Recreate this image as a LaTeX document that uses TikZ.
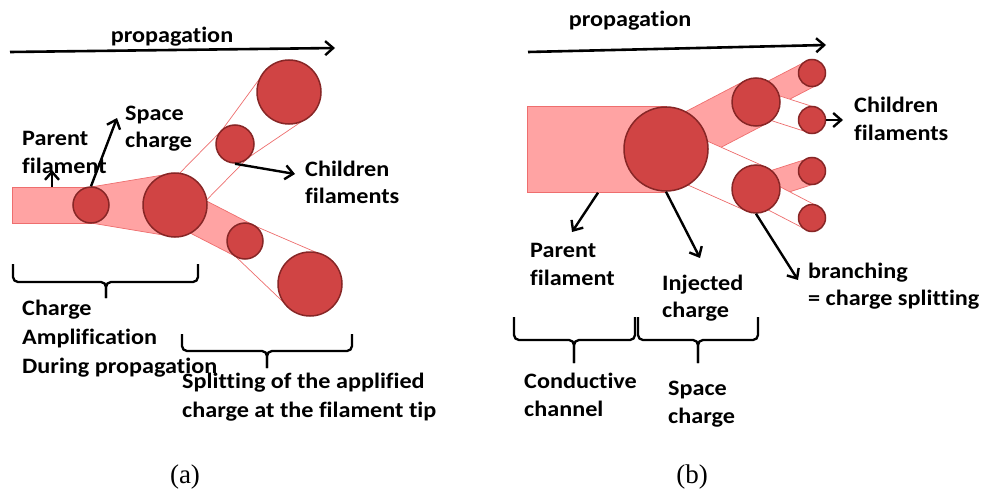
\documentclass[tikz,border=0pt]{standalone}
\usepackage{fontspec}
\setmainfont{Carlito}[FakeStretch=1.1, Ligatures=NoCommon]
\newfontfamily\capfont{Liberation Serif}
\usetikzlibrary{calc,arrows.meta}
\definecolor{blob}{RGB}{208,68,68}
\definecolor{blobedge}{RGB}{135,38,38}
\definecolor{pinkfill}{RGB}{255,163,163}
\definecolor{pinkedge}{RGB}{238,110,110}
\tikzset{
 blobc/.style={circle, fill=blob, draw=blobedge, line width=1.5pt, inner sep=0pt, minimum size=#1},
 lbl/.style={font=\bfseries\fontsize{22}{28}\selectfont, align=left, anchor=base west, inner sep=0pt},
 arr/.style={-{Straight Barb[length=8pt,width=14pt,line width=2.4pt]}, line width=2.4pt},
 proparr/.style={-{Straight Barb[length=8pt,width=14pt,line width=2.4pt]}, line width=2.6pt},
 bracefig/.style={line width=2.3pt, rounded corners=5pt},
 pinktube/.style={fill=pinkfill, draw=pinkedge, line width=0.7pt},
 whitetube/.style={fill=white, draw=pinkedge, line width=0.7pt},
 capl/.style={font=\capfont\fontsize{27}{30}\selectfont, inner sep=0pt, anchor=base},
}
\newcommand\tubepath[5]{%
 \path[#5] ($(#1)!#2!90:(#3)$) -- ($(#3)!#4!-90:(#1)$) -- ($(#3)!#4!90:(#1)$) -- ($(#1)!#2!-90:(#3)$) -- cycle;}
\begin{document}
\begin{tikzpicture}[x=1pt,y=-1pt]
\useasboundingbox (0,0) rectangle (981,495);
% ---------------- panel (a) ----------------
\coordinate (pa1) at (91,205);
\coordinate (pa2) at (175,205);
\coordinate (pa3) at (235,144);
\coordinate (pa4) at (289,92);
\coordinate (pa5) at (245,241);
\coordinate (pa6) at (310,284);
\node[rectangle, anchor=north west, fill=pinkfill, draw=pinkedge, line width=0.7pt, minimum width=79pt, minimum height=36pt, inner sep=0pt] (pfL) at (12,187) {};
\tubepath{pa1}{18pt}{pa2}{32pt}{pinktube}
\tubepath{pa2}{18pt}{pa5}{18pt}{pinktube}
\tubepath{pa5}{18pt}{pa6}{32pt}{whitetube}
\tubepath{pa3}{19pt}{pa4}{32pt}{whitetube}
\begin{scope}
 \clip ($(pa2)!19pt!90:(pa3)$) -- ($(pa3)!19pt!-90:(pa2)$) -- ($(pa3)!19pt!90:(pa2)$) -- ($(pa2)!19pt!-90:(pa3)$) -- cycle;
 \shade[left color=white, middle color=pinkfill!80, right color=white, shading angle=45] (180,139) rectangle (240,199);
\end{scope}
\tubepath{pa2}{19pt}{pa3}{19pt}{draw=pinkedge, line width=0.7pt}
\node[blobc=36pt] (c1) at (pa1) {};
\node[blobc=64pt] (c2) at (pa2) {};
\node[blobc=38pt] (c3) at (pa3) {};
\node[blobc=64pt] (c4) at (pa4) {};
\node[blobc=36pt] (c5) at (pa5) {};
\node[blobc=64pt] (c6) at (pa6) {};
% propagation
\coordinate (propLs) at (10,52);
\coordinate (propLe) at (335,48);
\draw[proparr] (propLs) -- (propLe);
\node[lbl, anchor=base] (propL) at (172,42) {propagation};
% arrows
\coordinate (pftipL) at (52,170);
\draw[arr] (pfL.north west -| pftipL) -- (pftipL);
\coordinate (sctip) at (117,118);
\draw[arr] (c1.north) -- (sctip);
\coordinate (chtipL) at (295,174);
\draw[arr] (c3.south) -- (chtipL);
% labels (base = baseline of last line)
\node[lbl] (tParentL) at (22,173) {Parent\\filament};
\node[lbl, font=\bfseries\fontsize{22}{27}\selectfont] (tSpaceL) at (125,147) {Space\\charge};
\node[lbl, font=\bfseries\fontsize{22}{27}\selectfont] (tChildL) at (305,203) {Children\\filaments};
\node[lbl, font=\bfseries\fontsize{22}{29}\selectfont] (tAmp) at (22,373) {Charge\\Amplification\\During propagation};
\node[lbl, font=\bfseries\fontsize{22}{29}\selectfont] (tSplit) at (182,417) {Splitting of the applified\\charge at the filament tip};
% braces
\draw[bracefig] (13,264) -- (13,282) -- (106,282) -- (106,298);
\draw[bracefig] (198,264) -- (198,282) -- (106,282) -- (106,298);
\draw[bracefig] (182,334) -- (182,351) -- (267,351) -- (267,368);
\draw[bracefig] (352,334) -- (352,351) -- (267,351) -- (267,368);
\node[capl] (capa) at (185,483) {(a)};
% ---------------- panel (b) ----------------
\coordinate (pbC) at (666,149);
\coordinate (pbU) at (756,102);
\coordinate (pbL) at (756,189);
\coordinate (pbUU) at (812,73);
\coordinate (pbUL) at (812,120);
\coordinate (pbLU) at (812,171);
\coordinate (pbLL) at (812,218);
\node[rectangle, anchor=north west, fill=pinkfill, draw=pinkedge, line width=0.7pt, minimum width=139pt, minimum height=86pt, inner sep=0pt] (pfR) at (527,106) {};
\tubepath{pbC}{24pt}{pbU}{24pt}{pinktube}
\tubepath{pbC}{24pt}{pbL}{24pt}{whitetube}
\tubepath{pbU}{13pt}{pbUU}{13pt}{pinktube}
\tubepath{pbU}{13pt}{pbUL}{13pt}{whitetube}
\tubepath{pbL}{13pt}{pbLU}{13pt}{pinktube}
\tubepath{pbL}{13pt}{pbLL}{13pt}{whitetube}
\node[blobc=84pt] (C) at (pbC) {};
\node[blobc=48pt] (U) at (pbU) {};
\node[blobc=48pt] (L) at (pbL) {};
\node[blobc=27pt] (UU) at (pbUU) {};
\node[blobc=27pt] (UL) at (pbUL) {};
\node[blobc=27pt] (LU) at (pbLU) {};
\node[blobc=27pt] (LL) at (pbLL) {};
\coordinate (propRs) at (528,52);
\coordinate (propRe) at (826,45);
\draw[proparr] (propRs) -- (propRe);
\node[lbl, anchor=base] (propR) at (630,27) {propagation};
\coordinate (chtipR) at (843,120);
\draw[arr] (UL.east) -- (chtipR);
\coordinate (pftipR) at (572,232);
\coordinate (pfsR) at (598,192);
\draw[arr] (pfR.south -| pfsR) -- (pftipR);
\coordinate (injtip) at (700,258);
\draw[arr] (C.south) -- (injtip);
\coordinate (brtip) at (798,280);
\draw[arr] (L.south) -- (brtip);
\node[lbl] (tChildR) at (854,140) {Children\\filaments};
\node[lbl] (tParentR) at (530,285) {Parent\\filament};
\node[lbl, font=\bfseries\fontsize{22}{27}\selectfont] (tInj) at (662,317) {Injected\\charge};
\node[lbl, font=\bfseries\fontsize{22}{27}\selectfont] (tBranch) at (808,305) {branching\\= charge splitting};
\node[lbl] (tCond) at (524,416) {Conductive\\channel};
\node[lbl] (tSpaceR) at (668,423) {Space\\charge};
\draw[bracefig] (514,317) -- (514,340) -- (574,340) -- (574,363);
\draw[bracefig] (635,317) -- (635,340) -- (574,340) -- (574,363);
\draw[bracefig] (638,317) -- (638,340) -- (698,340) -- (698,363);
\draw[bracefig] (758,317) -- (758,340) -- (698,340) -- (698,363);
\node[capl] (capb) at (692,483) {(b)};
\end{tikzpicture}
\end{document}
